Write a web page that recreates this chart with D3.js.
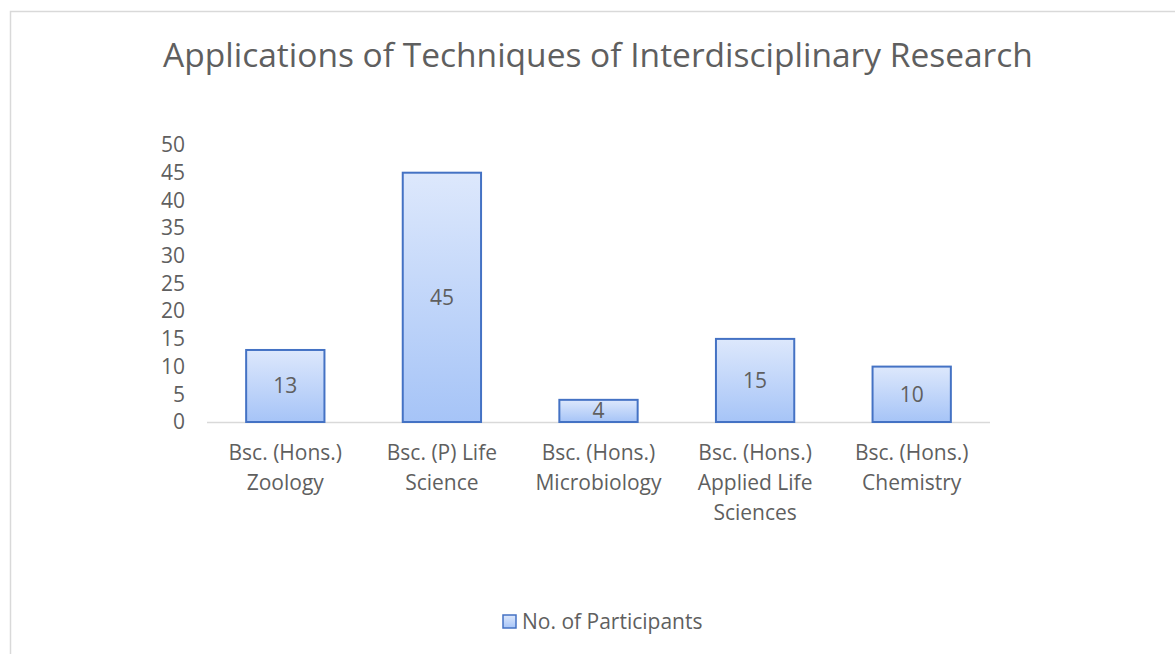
<!DOCTYPE html>
<html>
<head>
<meta charset="utf-8">
<script src="https://cdn.jsdelivr.net/npm/d3@7"></script>
<style>
  body { margin: 0; background: #fff; }
  text { font-family: "Open Sans", "Noto Sans", sans-serif; fill: #5f5f5f; }
</style>
</head>
<body>
<div id="chart"></div>
<script>
const categories = [
  ["Bsc. (Hons.)", "Zoology"],
  ["Bsc. (P) Life", "Science"],
  ["Bsc. (Hons.)", "Microbiology"],
  ["Bsc. (Hons.)", "Applied Life", "Sciences"],
  ["Bsc. (Hons.)", "Chemistry"]
];
const participants = [13, 45, 4, 15, 10];
const yTicks = [0, 5, 10, 15, 20, 25, 30, 35, 40, 45, 50];
const seriesName = "No. of Participants";
const title = "Applications of Techniques of Interdisciplinary Research";

const width = 1175, height = 654;
const svg = d3.select("#chart").append("svg")
    .attr("width", width).attr("height", height);

const defs = svg.append("defs");
const grad = defs.append("linearGradient").attr("id", "barGrad")
    .attr("x1", 0).attr("y1", 0).attr("x2", 0).attr("y2", 1);
grad.append("stop").attr("offset", "0%").attr("stop-color", "#dde8fc");
grad.append("stop").attr("offset", "100%").attr("stop-color", "#a6c4f7");

// chart frame
svg.append("path")
    .attr("d", "M10.5,654 L10.5,11.5 L1175,11.5")
    .attr("fill", "none").attr("stroke", "#d9d9d9").attr("stroke-width", 1.5);

svg.append("text")
    .attr("x", 598).attr("y", 67)
    .attr("text-anchor", "middle")
    .style("font-size", "33.5px")
    .text(title);

const keys = categories.map(c => c.join(" "));
const x = d3.scaleBand().domain(keys).range([207, 990]).paddingInner(0.5).paddingOuter(0.25);
const y = d3.scaleLinear().domain([0, 50]).range([422, 145]);

// y axis labels
const yAxis = svg.append("g").attr("transform", "translate(185,0)")
    .call(d3.axisLeft(y).tickValues(yTicks).tickSize(0).tickPadding(0));
yAxis.select(".domain").remove();
yAxis.selectAll("text").style("font-size", "21px").style("font-family", null).attr("fill", "#5f5f5f");

// baseline
svg.append("line")
    .attr("x1", 207).attr("x2", 990)
    .attr("y1", y(0) + 0.5).attr("y2", y(0) + 0.5)
    .attr("stroke", "#d9d9d9").attr("stroke-width", 1.5);

const bars = svg.append("g").selectAll("g").data(participants).join("g");
bars.append("rect")
    .attr("x", (d, i) => x(keys[i]))
    .attr("y", d => y(d))
    .attr("width", x.bandwidth())
    .attr("height", d => y(0) - y(d))
    .attr("fill", "url(#barGrad)")
    .attr("stroke", "#4472c4").attr("stroke-width", 2);
bars.append("text")
    .attr("x", (d, i) => x(keys[i]) + x.bandwidth() / 2)
    .attr("y", d => (y(d) + y(0)) / 2 + 7.5)
    .attr("text-anchor", "middle")
    .style("font-size", "21px")
    .text(d => d);

// category labels
const catG = svg.append("g");
categories.forEach((lines, i) => {
  const t = catG.append("text")
      .attr("x", x(keys[i]) + x.bandwidth() / 2)
      .attr("y", 460)
      .attr("text-anchor", "middle")
      .style("font-size", "21px");
  lines.forEach((ln, j) => {
    t.append("tspan").attr("x", x(keys[i]) + x.bandwidth() / 2)
      .attr("dy", j === 0 ? 0 : 30).text(ln);
  });
});

// legend
const leg = svg.append("g").attr("transform", "translate(503,615)");
leg.append("rect").attr("width", 13).attr("height", 13)
    .attr("fill", "url(#barGrad)").attr("stroke", "#4472c4").attr("stroke-width", 1.5);
leg.append("text").attr("x", 19).attr("y", 14).style("font-size", "21px").text(seriesName);
</script>
</body>
</html>
